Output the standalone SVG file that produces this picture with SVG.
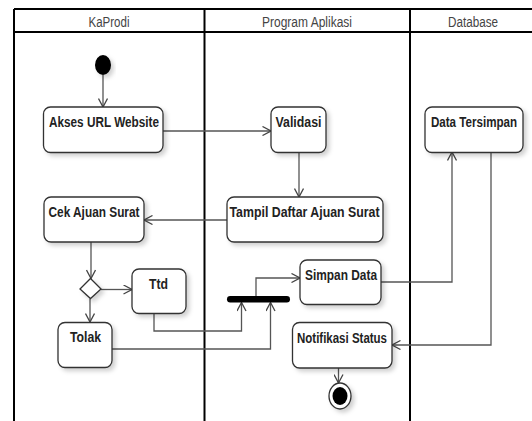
<svg xmlns="http://www.w3.org/2000/svg" width="532" height="421" viewBox="0 0 532 421">
  <defs>
    <filter id="shadow" x="-20%" y="-20%" width="150%" height="160%">
      <feDropShadow dx="3" dy="3" stdDeviation="2" flood-color="#000" flood-opacity="0.18"/>
    </filter>
    <marker id="open" viewBox="0 0 10 10" refX="9.5" refY="5" markerWidth="10" markerHeight="10" markerUnits="userSpaceOnUse" orient="auto">
      <path d="M1,0.5 L9.5,5 L1,9.5" fill="none" stroke="#444" stroke-width="1.3"/>
    </marker>
    <style>
      .lane { fill: none; stroke: #000; stroke-width: 2; }
      .head { font-family: "Liberation Sans Narrow", "Liberation Sans", Arial, sans-serif; font-size: 14px; fill: #444; text-anchor: middle; }
      .box { fill: #fff; stroke: #333; stroke-width: 1.3; filter: url(#shadow); }
      .lbl { font-family: "Liberation Sans Narrow", "Liberation Sans", Arial, sans-serif; font-size: 14.5px; font-weight: bold; fill: #222; text-anchor: middle; }
      .conn { fill: none; stroke: #555; stroke-width: 1.3; marker-end: url(#open); }
    </style>
  </defs>

  <rect width="532" height="421" fill="#fff"/>

  <!-- swimlanes -->
  <g id="lanes">
    <line class="lane" x1="14" y1="9" x2="532" y2="9"/>
    <line class="lane" x1="14" y1="32" x2="532" y2="32"/>
    <line class="lane" x1="14" y1="9" x2="14" y2="421"/>
    <line class="lane" x1="204.5" y1="9" x2="204.5" y2="421"/>
    <line class="lane" x1="410" y1="9" x2="410" y2="421"/>
    <text class="head" x="109" y="27" textLength="41" lengthAdjust="spacingAndGlyphs">KaProdi</text>
    <text class="head" x="307" y="27" textLength="90" lengthAdjust="spacingAndGlyphs">Program Aplikasi</text>
    <text class="head" x="473" y="27" textLength="50" lengthAdjust="spacingAndGlyphs">Database</text>
  </g>

  <!-- connectors -->
  <g id="connectors">
    <path class="conn" d="M103,75 L103,107"/>
    <path class="conn" d="M163,131 L271,131"/>
    <path class="conn" d="M299,152 L299,197"/>
    <path class="conn" d="M227,220 L144,220"/>
    <path class="conn" d="M91,242 L91,278.5"/>
    <path class="conn" d="M101,289.5 L132,289.5"/>
    <path class="conn" d="M90,298.5 L90,322"/>
    <path class="conn" d="M154,313 L154,331 L241.5,331 L241.5,302.5"/>
    <path class="conn" d="M112,349 L270.5,349 L270.5,302.5"/>
    <path class="conn" d="M256,296 L256,278 L300,278"/>
    <path class="conn" d="M381,282 L452,282 L452,152"/>
    <path class="conn" d="M491,152 L491,345 L392,345"/>
    <path class="conn" d="M338.5,368 L338.5,383"/>
  </g>

  <!-- nodes -->
  <g id="start">
    <ellipse cx="103" cy="65" rx="8" ry="10" fill="#000" filter="url(#shadow)"/>
  </g>
  <g id="akses-url">
    <rect class="box" x="43.5" y="107" width="119.5" height="45.5" rx="7"/>
    <text class="lbl" x="104" y="126.5" textLength="110" lengthAdjust="spacingAndGlyphs">Akses URL Website</text>
  </g>
  <g id="validasi">
    <rect class="box" x="271" y="107" width="55" height="45.5" rx="7"/>
    <text class="lbl" x="298.5" y="126.5" textLength="46" lengthAdjust="spacingAndGlyphs">Validasi</text>
  </g>
  <g id="data-tersimpan">
    <rect class="box" x="425" y="107" width="98" height="45.5" rx="7"/>
    <!-- condensed horizontally to fit the narrow lane -->
    <text class="lbl" transform="translate(474,126.5) scale(0.8,1)" x="0" y="0">Data Tersimpan</text>
  </g>
  <g id="tampil-daftar">
    <rect class="box" x="227" y="197" width="156" height="45" rx="7"/>
    <text class="lbl" x="304.5" y="216.5" textLength="150" lengthAdjust="spacingAndGlyphs">Tampil Daftar Ajuan Surat</text>
  </g>
  <g id="cek-ajuan">
    <rect class="box" x="44" y="197" width="100" height="45" rx="7"/>
    <text class="lbl" x="94" y="216.5" textLength="91" lengthAdjust="spacingAndGlyphs">Cek Ajuan Surat</text>
  </g>
  <g id="keputusan">
    <polygon points="90.5,278.5 101,289 90.5,298.5 80,289" fill="#fff" stroke="#333" stroke-width="1.3" filter="url(#shadow)"/>
  </g>
  <g id="ttd">
    <rect class="box" x="132" y="269" width="54" height="44.5" rx="7"/>
    <text class="lbl" x="158.5" y="288.5" textLength="19" lengthAdjust="spacingAndGlyphs">Ttd</text>
  </g>
  <g id="tolak">
    <rect class="box" x="58" y="322.5" width="54" height="45" rx="7"/>
    <text class="lbl" x="85.5" y="341.5" textLength="31" lengthAdjust="spacingAndGlyphs">Tolak</text>
  </g>
  <g id="fork">
    <rect x="227" y="296" width="63" height="6.5" rx="3.2" fill="#000"/>
  </g>
  <g id="simpan-data">
    <rect class="box" x="300" y="260" width="81" height="44.5" rx="7"/>
    <text class="lbl" x="341" y="279.5" textLength="72" lengthAdjust="spacingAndGlyphs">Simpan Data</text>
  </g>
  <g id="notifikasi-status">
    <rect class="box" x="292.5" y="322.5" width="99.5" height="45.5" rx="7"/>
    <text class="lbl" x="342" y="342.5" textLength="90" lengthAdjust="spacingAndGlyphs">Notifikasi Status</text>
  </g>
  <g id="end">
    <ellipse cx="340" cy="396" rx="11" ry="13" fill="#fff" stroke="#333" stroke-width="1.3" filter="url(#shadow)"/>
    <ellipse cx="340" cy="396" rx="7.5" ry="9" fill="#000"/>
  </g>
</svg>
